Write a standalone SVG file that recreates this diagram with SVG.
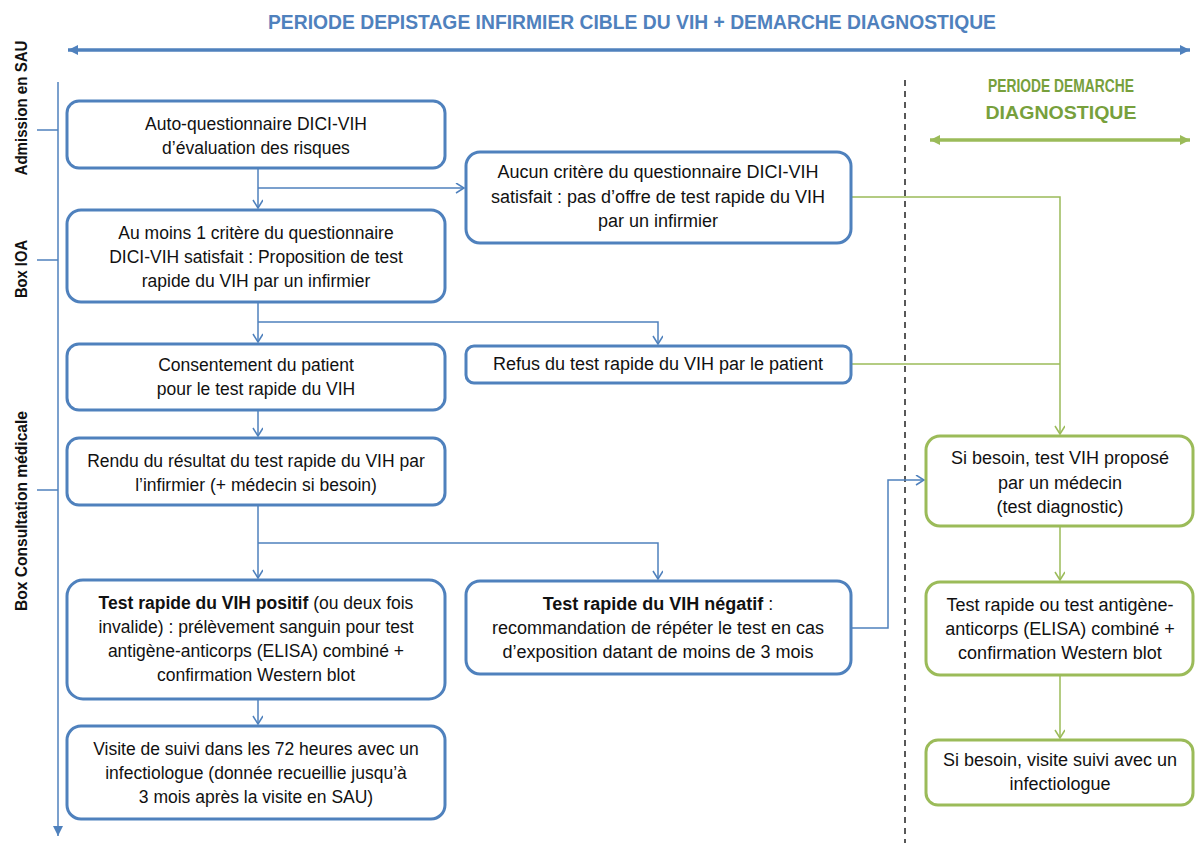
<svg xmlns="http://www.w3.org/2000/svg" width="1196" height="843" viewBox="0 0 1196 843">
<style>
text{font-family:"Liberation Sans",Arial,sans-serif;font-size:17.5px;fill:#111;text-anchor:middle}
.b{fill:#fff;stroke:#4f81bd;stroke-width:3}
.g{fill:#fff;stroke:#9bbb59;stroke-width:3}
.cb{fill:none;stroke:#4f81bd;stroke-width:1.5}
.cg{fill:none;stroke:#9bbb59;stroke-width:1.5}
.bold{font-weight:bold}
.lab{font-weight:bold;font-size:16px}
.nar{font-size:18px}
</style>
<defs>
<marker id="ab" markerWidth="12" markerHeight="12" refX="9" refY="5" orient="auto" markerUnits="userSpaceOnUse"><path d="M1,0 L9,5 L1,10" fill="none" stroke="#4f81bd" stroke-width="1.5"/></marker>
<marker id="ag" markerWidth="12" markerHeight="12" refX="9" refY="5" orient="auto" markerUnits="userSpaceOnUse"><path d="M1,0 L9,5 L1,10" fill="none" stroke="#9bbb59" stroke-width="1.5"/></marker>
<marker id="fb" markerWidth="12" markerHeight="12" refX="10" refY="5" orient="auto" markerUnits="userSpaceOnUse"><path d="M0,0 L10,5 L0,10 Z" fill="#4f81bd"/></marker>
<marker id="fbs" markerWidth="12" markerHeight="12" refX="0" refY="5" orient="auto" markerUnits="userSpaceOnUse"><path d="M10,0 L0,5 L10,10 Z" fill="#4f81bd"/></marker>
<marker id="fg" markerWidth="12" markerHeight="12" refX="10" refY="5" orient="auto" markerUnits="userSpaceOnUse"><path d="M0,0 L10,5 L0,10 Z" fill="#9bbb59"/></marker>
<marker id="fgs" markerWidth="12" markerHeight="12" refX="0" refY="5" orient="auto" markerUnits="userSpaceOnUse"><path d="M10,0 L0,5 L10,10 Z" fill="#9bbb59"/></marker>
</defs>
<rect width="1196" height="843" fill="#fff"/>

<g id="headers">
<text x="632" y="29" class="bold" style="font-size:19.5px;fill:#4f81bd" textLength="728" lengthAdjust="spacingAndGlyphs">PERIODE DEPISTAGE INFIRMIER CIBLE DU VIH + DEMARCHE DIAGNOSTIQUE</text>
<line x1="68" y1="50" x2="1190" y2="50" stroke="#4f81bd" stroke-width="3.5" marker-start="url(#fbs)" marker-end="url(#fb)"/>
<text x="1061" y="92" class="bold" style="font-size:19px;fill:#77a03c" textLength="146" lengthAdjust="spacingAndGlyphs">PERIODE DEMARCHE</text>
<text x="1061" y="119" class="bold" style="font-size:19px;fill:#77a03c" textLength="151" lengthAdjust="spacingAndGlyphs">DIAGNOSTIQUE</text>
<line x1="930" y1="140" x2="1190" y2="140" stroke="#9bbb59" stroke-width="3.5" marker-start="url(#fgs)" marker-end="url(#fg)"/>
<line x1="905" y1="80" x2="905" y2="843" stroke="#222" stroke-width="1.5" stroke-dasharray="6,5"/>
</g>

<g id="timeline">
<line x1="58" y1="82" x2="58" y2="836" stroke="#4f81bd" stroke-width="1.5" marker-end="url(#fb)"/>
<line x1="37" y1="130" x2="58" y2="130" stroke="#4f81bd" stroke-width="1.5"/>
<line x1="37" y1="260" x2="58" y2="260" stroke="#4f81bd" stroke-width="1.5"/>
<line x1="37" y1="490" x2="58" y2="490" stroke="#4f81bd" stroke-width="1.5"/>
<text class="lab" transform="translate(27,108) rotate(-90)" textLength="135" lengthAdjust="spacingAndGlyphs">Admission en SAU</text>
<text class="lab" transform="translate(27,269) rotate(-90)" textLength="58" lengthAdjust="spacingAndGlyphs">Box IOA</text>
<text class="lab" transform="translate(27,511) rotate(-90)" textLength="200" lengthAdjust="spacingAndGlyphs">Box Consultation médicale</text>
</g>

<g id="connectors">
<path class="cb" d="M258,168 V208" marker-end="url(#ab)"/>
<path class="cb" d="M258,188 H464" marker-end="url(#ab)"/>
<path class="cb" d="M258,302 V342" marker-end="url(#ab)"/>
<path class="cb" d="M258,322 H658 V344" marker-end="url(#ab)"/>
<path class="cb" d="M258,410 V436" marker-end="url(#ab)"/>
<path class="cb" d="M258,505 V578" marker-end="url(#ab)"/>
<path class="cb" d="M258,543 H658 V579" marker-end="url(#ab)"/>
<path class="cb" d="M258,699 V724" marker-end="url(#ab)"/>
<path class="cb" d="M851,628 H888 V480 H924" marker-end="url(#ab)"/>
<path class="cg" d="M851,197 H1060 V434" marker-end="url(#ag)"/>
<path class="cg" d="M851,364 H1060"/>
<path class="cg" d="M1060,526 V580" marker-end="url(#ag)"/>
<path class="cg" d="M1060,675 V738" marker-end="url(#ag)"/>
</g>

<g id="n1"><rect class="b" x="67" y="101" width="378" height="67" rx="12"/>
<text x="256" y="130">Auto-questionnaire DICI-VIH</text><text x="256" y="154">d’évaluation des risques</text></g>

<g id="n2"><rect class="b" x="466" y="152" width="385" height="91" rx="14"/>
<text class="nar" x="658" y="178">Aucun critère du questionnaire DICI-VIH</text><text class="nar" x="658" y="203">satisfait : pas d’offre de test rapide du VIH</text><text class="nar" x="658" y="227">par un infirmier</text></g>

<g id="n3"><rect class="b" x="67" y="210" width="378" height="92" rx="14"/>
<text x="256" y="239">Au moins 1 critère du questionnaire</text><text x="256" y="263">DICI-VIH satisfait : Proposition de test</text><text x="256" y="287">rapide du VIH par un infirmier</text></g>

<g id="n4"><rect class="b" x="67" y="344" width="378" height="66" rx="12"/>
<text x="256" y="371">Consentement du patient</text><text x="256" y="395">pour le test rapide du VIH</text></g>

<g id="n5"><rect class="b" x="466" y="346" width="385" height="37" rx="8"/>
<text class="nar" x="658" y="370">Refus du test rapide du VIH par le patient</text></g>

<g id="n6"><rect class="b" x="67" y="438" width="378" height="67" rx="12"/>
<text x="256" y="467">Rendu du résultat du test rapide du VIH par</text><text x="256" y="491">l’infirmier (+ médecin si besoin)</text></g>

<g id="n7"><rect class="b" x="67" y="580" width="378" height="119" rx="16"/>
<text x="256" y="609"><tspan class="bold">Test rapide du VIH positif</tspan> (ou deux fois</text><text x="256" y="633">invalide) : prélèvement sanguin pour test</text><text x="256" y="657">antigène-anticorps (ELISA) combiné +</text><text x="256" y="681">confirmation Western blot</text></g>

<g id="n8"><rect class="b" x="466" y="581" width="385" height="93" rx="14"/>
<text class="nar" x="658" y="610"><tspan class="bold">Test rapide du VIH négatif</tspan> :</text><text class="nar" x="658" y="634">recommandation de répéter le test en cas</text><text class="nar" x="658" y="658">d’exposition datant de moins de 3 mois</text></g>

<g id="n9"><rect class="b" x="67" y="726" width="378" height="93" rx="14"/>
<text x="256" y="755">Visite de suivi dans les 72 heures avec un</text><text x="256" y="779">infectiologue (donnée recueillie jusqu’à</text><text x="256" y="803">3 mois après la visite en SAU)</text></g>

<g id="g1"><rect class="g" x="926" y="436" width="267" height="90" rx="14"/>
<text class="nar" x="1060" y="464">Si besoin, test VIH proposé</text><text class="nar" x="1060" y="489">par un médecin</text><text class="nar" x="1060" y="513">(test diagnostic)</text></g>

<g id="g2"><rect class="g" x="926" y="582" width="267" height="93" rx="14"/>
<text class="nar" x="1060" y="611">Test rapide ou test antigène-</text><text class="nar" x="1060" y="635">anticorps (ELISA) combiné +</text><text class="nar" x="1060" y="659">confirmation Western blot</text></g>

<g id="g3"><rect class="g" x="926" y="740" width="267" height="65" rx="12"/>
<text class="nar" x="1060" y="766">Si besoin, visite suivi avec un</text><text class="nar" x="1060" y="790">infectiologue</text></g>
</svg>
